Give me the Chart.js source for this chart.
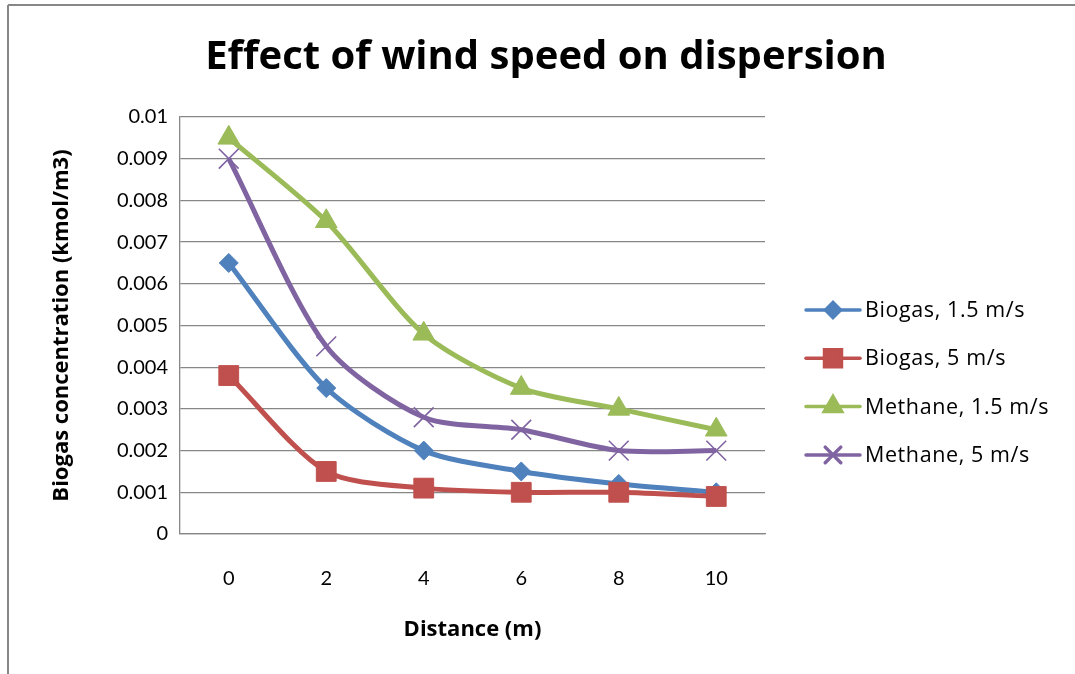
<!DOCTYPE html>
<html>
<head>
<meta charset="utf-8">
<title>Effect of wind speed on dispersion</title>
<script src="https://cdn.jsdelivr.net/npm/chart.js@4/dist/chart.umd.min.js"></script>
<style>
  html, body { margin: 0; padding: 0; background: #fff; }
  canvas { display: block; }
</style>
</head>
<body>
<canvas id="chart" width="1075" height="674"></canvas>
<script>
// distance from source (m) and concentration (kmol/m3)
const distances = ['0', '2', '4', '6', '8', '10'];
const biogasSlow = [0.0065, 0.0035, 0.002, 0.0015, 0.0012, 0.001];
const biogasFast = [0.0038, 0.0015, 0.0011, 0.001, 0.001, 0.0009];
const methaneSlow = [0.0095, 0.0075, 0.0048, 0.0035, 0.003, 0.0025];
const methaneFast = [0.009, 0.0045, 0.0028, 0.0025, 0.002, 0.002];

const yTicks = [0, 0.001, 0.002, 0.003, 0.004, 0.005, 0.006, 0.007, 0.008, 0.009, 0.01];
const yTickLabels = ['0', '0.001', '0.002', '0.003', '0.004', '0.005', '0.006', '0.007', '0.008', '0.009', '0.01'];

const FONT = 'Lato';
const BOLD = '"Open Sans"';
const AXIS_GREY = '#878787';
const TITLE_SIZE = 40;
const titleLine = TITLE_SIZE * 1.2;
const titleTop = 58 - titleLine / 2;

// white page + the frame lines on top and left
const frame = {
  id: 'frame',
  beforeDraw(chart) {
    const ctx = chart.ctx;
    ctx.save();
    ctx.fillStyle = '#fff';
    ctx.fillRect(0, 0, chart.width, chart.height);
    ctx.strokeStyle = AXIS_GREY;
    ctx.lineWidth = 2;
    ctx.beginPath();
    ctx.moveTo(8, 5);
    ctx.lineTo(chart.width, 5);
    ctx.moveTo(8, 5);
    ctx.lineTo(8, chart.height);
    ctx.stroke();
    ctx.restore();
  }
};

// legend on the right: line sample with the marker in the middle
const sideLegend = {
  id: 'sideLegend',
  afterDraw(chart) {
    const ctx = chart.ctx;
    const x0 = 806, x1 = 860, xm = 833, xt = 865;
    let y = 310;
    const sizes = [7.5, 12, 10, 11];
    chart.data.datasets.forEach((ds, i) => {
      ctx.save();
      ctx.strokeStyle = ds.borderColor;
      ctx.lineWidth = 3.5;
      ctx.lineCap = 'round';
      ctx.beginPath();
      ctx.moveTo(x0, y);
      ctx.lineTo(x1, y);
      ctx.stroke();
      ctx.fillStyle = ds.pointBackgroundColor;
      ctx.strokeStyle = ds.pointBorderColor;
      Chart.helpers.drawPoint(ctx, {
        pointStyle: ds.pointStyle,
        radius: sizes[i],
        rotation: 0,
        borderWidth: ds.pointBorderWidth
      }, xm, y);
      ctx.fillStyle = '#000';
      ctx.font = '21.5px ' + BOLD;
      ctx.letterSpacing = '0.6px';
      ctx.textBaseline = 'middle';
      ctx.textAlign = 'left';
      ctx.fillText(ds.label, xt, y + 1);
      ctx.restore();
      y += 48.3;
    });
  }
};

function series(label, data, color, style, radius, order) {
  const cross = style === 'crossRot';
  return {
    label, data, order,
    borderColor: color,
    backgroundColor: color,
    borderWidth: 5,
    tension: 0.27,
    pointStyle: style,
    pointRadius: radius,
    pointHoverRadius: radius,
    pointBackgroundColor: color,
    pointBorderColor: color,
    pointBorderWidth: cross ? 1.6 : 1
  };
}

new Chart(document.getElementById('chart'), {
  type: 'line',
  data: {
    labels: distances,
    datasets: [
      series('Biogas, 1.5 m/s', biogasSlow, '#4F81BD', 'rectRot', 9.5, 4),
      series('Biogas, 5 m/s', biogasFast, '#C0504D', 'rect', 14, 3),
      series('Methane, 1.5 m/s', methaneSlow, '#9BBB59', 'triangle', 12.5, 2),
      series('Methane, 5 m/s', methaneFast, '#8064A2', 'crossRot', 14, 1)
    ]
  },
  options: {
    responsive: false,
    animation: false,
    events: [],
    layout: { padding: { left: 17, right: 0, top: 0, bottom: 0 } },
    plugins: {
      legend: { display: false },
      tooltip: { enabled: false },
      title: {
        display: true,
        text: 'Effect of wind speed on dispersion',
        color: '#000',
        font: { family: BOLD, size: TITLE_SIZE, weight: 'bold', lineHeight: 1.2 },
        padding: { top: titleTop, bottom: 117 - titleTop - titleLine }
      }
    },
    scales: {
      x: {
        type: 'category',
        offset: true,
        grid: { display: false },
        border: { display: true, color: AXIS_GREY, width: 1.3 },
        ticks: { color: '#000', font: { family: FONT, size: 20 }, padding: 25, maxRotation: 0 },
        title: {
          display: true,
          text: 'Distance (m)',
          color: '#000',
          font: { family: BOLD, size: 22, weight: 'bold', lineHeight: 1.2 },
          padding: { top: 0, bottom: 31 }
        },
        afterFit(scale) { scale.height = 140; }
      },
      y: {
        type: 'linear',
        min: 0,
        max: 0.01,
        afterBuildTicks(scale) { scale.ticks = yTicks.map(v => ({ value: v })); },
        grid: { color: AXIS_GREY, lineWidth: 1.3, drawTicks: false },
        border: { display: true, color: AXIS_GREY, width: 1.3 },
        ticks: {
          color: '#000',
          font: { family: FONT, size: 20 },
          padding: 12,
          callback: (v, i) => yTickLabels[i]
        },
        title: {
          display: true,
          text: 'Biogas concentration (kmol/m3)',
          color: '#000',
          font: { family: BOLD, size: 22, weight: 'bold', lineHeight: 1.2 },
          padding: { top: 32, bottom: 0 }
        },
        afterFit(scale) { scale.width = 163; }
      },
      // keeps room on the right for the legend
      legendSpace: {
        type: 'linear',
        position: 'right',
        grid: { display: false },
        border: { display: false },
        ticks: { display: false },
        afterFit(scale) { scale.width = 310; }
      }
    }
  },
  plugins: [frame, sideLegend]
});
</script>
</body>
</html>
